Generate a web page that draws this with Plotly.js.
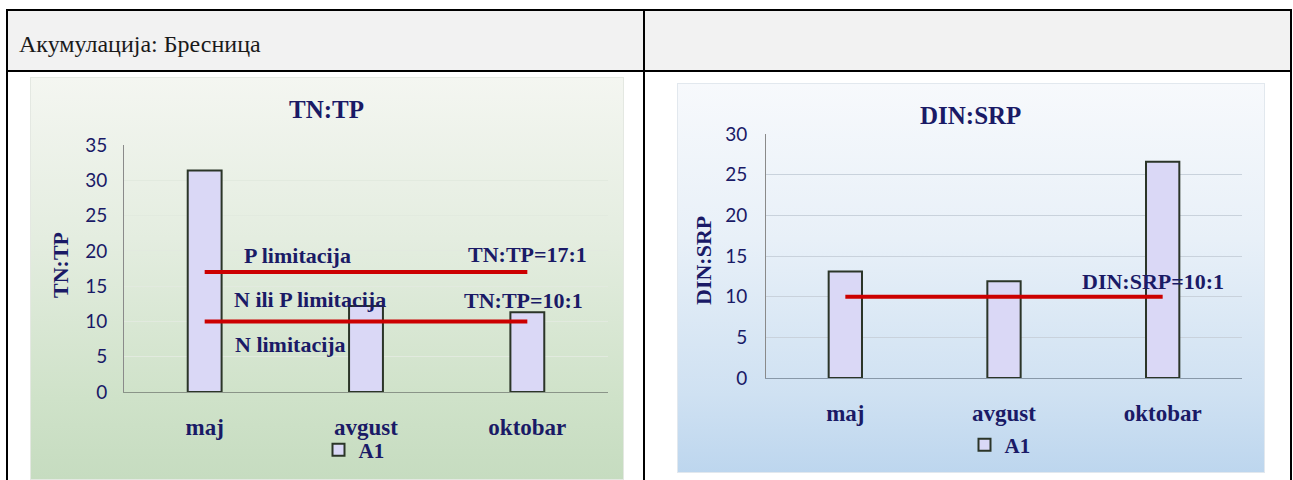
<!DOCTYPE html>
<html>
<head>
<meta charset="utf-8">
<script src="https://cdn.plot.ly/plotly-3.0.1.min.js"></script>
<style>
  html, body { margin: 0; padding: 0; background: #ffffff; }
  #wrap { position: relative; width: 1293px; height: 480px; overflow: hidden; }
  .abs { position: absolute; }
  #chart { position: absolute; left: 0; top: 0; width: 1293px; height: 480px; }
</style>
</head>
<body>
<div id="wrap">
  <div class="abs" style="left:7px;top:10px;width:1284px;height:61px;background:#f2f2f2;"></div>
  <div class="abs" style="left:30px;top:77px;width:594px;height:403px;background:linear-gradient(180deg,#f4f6f1 0%,#e4ede0 40%,#cfe2c9 80%,#c6dcc0 100%);border:1px solid #e4e8e2;box-sizing:border-box;"></div>
  <div class="abs" style="left:677px;top:83px;width:588px;height:390px;background:linear-gradient(180deg,#f7f9fc 0%,#e8f0f8 40%,#cfe1f2 80%,#bdd6ee 100%);border:1px solid #e2e8ee;box-sizing:border-box;"></div>
  <div class="abs" style="left:6px;top:9px;width:1286px;height:2px;background:#000;"></div>
  <div class="abs" style="left:6px;top:70px;width:1286px;height:2px;background:#000;"></div>
  <div class="abs" style="left:6px;top:9px;width:2px;height:471px;background:#000;"></div>
  <div class="abs" style="left:643px;top:9px;width:2px;height:471px;background:#000;"></div>
  <div class="abs" style="left:1290px;top:9px;width:2px;height:471px;background:#000;"></div>
  <div id="chart"></div>
</div>
<script>
// ---- data ----
const months = ["maj", "avgust", "oktobar"];
const tnTp = [31.4, 12.2, 11.3];
const dinSrp = [13.1, 11.9, 26.6];
const tnTpLimitP = [17, 17];       // TN:TP = 17:1
const tnTpLimitN = [10, 10];       // TN:TP = 10:1
const dinSrpLimit = [10, 10];      // DIN:SRP = 10:1
const lineX = ["maj", "oktobar"];
const seriesName = "A1";
const headerText = "Акумулација: Бресница";

const navy = "#1a1a66";
const serif = "Liberation Serif, DejaVu Serif, serif";
const sans = "Lato, Open Sans, sans-serif";
const W = 1293, H = 480;
const px = v => v / W;
const py = v => (H - v) / H;

const barStyle = {
  color: "#dad8f6",
  line: { color: "#2b3528", width: 2 }
};

const traces = [
  { type: "bar", x: months, y: tnTp, name: seriesName, xaxis: "x", yaxis: "y",
    width: 0.21, marker: barStyle, legend: "legend", hoverinfo: "x+y" },
  { type: "scatter", mode: "lines", x: lineX, y: tnTpLimitP, xaxis: "x", yaxis: "y",
    line: { color: "#cc0000", width: 4 }, showlegend: false },
  { type: "scatter", mode: "lines", x: lineX, y: tnTpLimitN, xaxis: "x", yaxis: "y",
    line: { color: "#cc0000", width: 4 }, showlegend: false },
  { type: "bar", x: months, y: dinSrp, name: seriesName, xaxis: "x2", yaxis: "y2",
    width: 0.21, marker: barStyle, legend: "legend2", hoverinfo: "x+y" },
  { type: "scatter", mode: "lines", x: lineX, y: dinSrpLimit, xaxis: "x2", yaxis: "y2",
    line: { color: "#cc0000", width: 4 }, showlegend: false }
];

const xCommon = {
  type: "category", showgrid: false, zeroline: false, showline: true,
  linecolor: "#8a9488", linewidth: 1, ticks: "", ticklabelstandoff: 14,
  tickfont: { family: serif, size: 23, color: navy, weight: "bold" }
};
const yCommon = {
  showline: true, linecolor: "#8a8a8a", linewidth: 1, ticks: "", zeroline: false,
  tickfont: { family: sans, size: 19, color: navy }
};

const annFont = (s) => ({ family: serif, size: s, color: navy, weight: "bold" });
const ann = (text, x, y, size, extra) => Object.assign({
  text: text, xref: "paper", yref: "paper", x: px(x), y: py(y),
  xanchor: "left", yanchor: "middle", showarrow: false, font: annFont(size)
}, extra || {});

const layout = {
  width: W, height: H,
  margin: { l: 0, r: 0, t: 0, b: 0 },
  paper_bgcolor: "rgba(0,0,0,0)",
  plot_bgcolor: "rgba(0,0,0,0)",
  showlegend: true,
  xaxis: Object.assign({}, xCommon, { domain: [px(124), px(608)], anchor: "y" }),
  yaxis: Object.assign({}, yCommon, { domain: [py(392), py(145)], anchor: "x",
    range: [0, 35], dtick: 5, gridcolor: "#e2eadf", gridwidth: 1, ticklabelstandoff: 12 }),
  xaxis2: Object.assign({}, xCommon, { domain: [px(766), px(1242)], anchor: "y2", linecolor: "#8898a8" }),
  yaxis2: Object.assign({}, yCommon, { domain: [py(378), py(134)], anchor: "x2",
    range: [0, 30], dtick: 5, gridcolor: "#c9d2dc", gridwidth: 1, ticklabelstandoff: 14 }),
  legend: { x: px(354), y: py(450), xanchor: "center", yanchor: "middle", orientation: "h",
    bgcolor: "rgba(0,0,0,0)", font: annFont(21), itemwidth: 30 },
  legend2: { x: px(1000), y: py(445), xanchor: "center", yanchor: "middle", orientation: "h",
    bgcolor: "rgba(0,0,0,0)", font: annFont(21), itemwidth: 30 },
  annotations: [
    { text: headerText, xref: "paper", yref: "paper", x: px(17), y: py(44), xanchor: "left", yanchor: "middle",
      showarrow: false, font: { family: serif, size: 24, color: "#1a1a1a" } },
    ann("<b>TN:TP</b>", 326, 110, 25, { xanchor: "center" }),
    ann("<b>DIN:SRP</b>", 970, 115, 25, { xanchor: "center" }),
    ann("<b>TN:TP</b>", 61, 265, 22, { xanchor: "center", textangle: -90 }),
    ann("<b>DIN:SRP</b>", 703, 260, 22, { xanchor: "center", textangle: -90 }),
    ann("<b>P limitacija</b>", 242, 255, 22),
    ann("<b>TN:TP=17:1</b>", 466, 254, 22),
    ann("<b>N ili P limitacija</b>", 232, 299, 22),
    ann("<b>TN:TP=10:1</b>", 462, 300, 22),
    ann("<b>N limitacija</b>", 233, 344, 22),
    ann("<b>DIN:SRP=10:1</b>", 1080, 281, 22)
  ]
};

Plotly.newPlot("chart", traces, layout, { displayModeBar: false, staticPlot: true });
</script>
</body>
</html>
